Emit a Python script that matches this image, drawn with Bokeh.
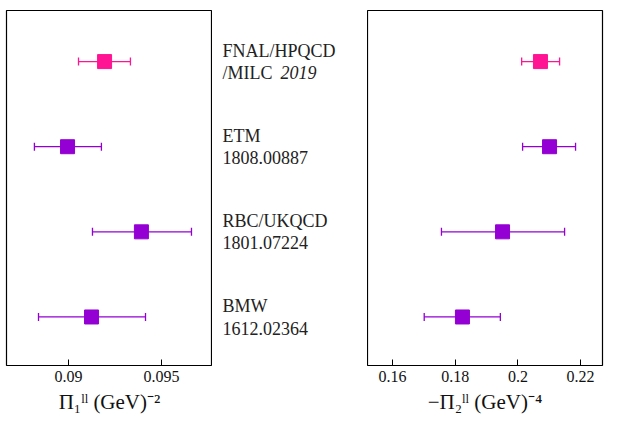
from bokeh.plotting import figure
from bokeh.layouts import row
from bokeh.models import Whisker, ColumnDataSource, Range1d, FixedTicker, TeeHead
from bokeh.core.properties import value
from bokeh.embed import file_html
from bokeh.resources import INLINE

labels1 = ["BMW", "RBC/UKQCD", "ETM", "FNAL/HPQCD"]
labels2 = ["1612.02364", "1801.07224", "1808.00887", "/MILC"]
ypos = [0, 1, 2, 3]
colors = ["#9400d3", "#9400d3", "#9400d3", "#ff1493"]
pi1 = [0.09124, 0.09392, 0.08995, 0.09194]
pi1_lo = [0.08839, 0.09129, 0.08817, 0.09054]
pi1_hi = [0.09414, 0.09661, 0.09177, 0.09333]
pi2 = [0.1823, 0.1951, 0.2101, 0.2072]
pi2_lo = [0.1701, 0.1756, 0.2015, 0.2012]
pi2_hi = [0.1944, 0.2149, 0.2184, 0.2133]

FONT = "Liberation Serif"
yr = (-0.57, 3.6)
FH = 355

def panel(xs, lo, hi, xr, ticks, label, fw, mbl, mbr):
    p = figure(frame_width=fw, frame_height=FH, x_range=Range1d(*xr), y_range=Range1d(*yr),
               output_backend="svg", toolbar_location=None, min_border_left=mbl,
               min_border_right=mbr, min_border_top=10)
    p.grid.visible = False
    p.yaxis.visible = False
    p.outline_line_color = "black"
    p.outline_line_width = 1.2
    src = ColumnDataSource(dict(x=xs, y=ypos, lo=lo, hi=hi, c=colors))
    w = Whisker(base="y", lower="lo", upper="hi", dimension="width", source=src,
                line_color="c", line_width=1.3,
                lower_head=TeeHead(size=8, line_color="c", line_width=1.3),
                upper_head=TeeHead(size=8, line_color="c", line_width=1.3))
    p.add_layout(w)
    p.scatter("x", "y", source=src, marker="square", size=14, fill_color="c", line_color="c")
    ax = p.xaxis[0]
    ax.ticker = FixedTicker(ticks=ticks)
    ax.axis_label = label
    ax.axis_label_text_font = FONT
    ax.axis_label_text_font_size = "21px"
    ax.axis_label_text_font_style = "normal"
    ax.axis_label_text_color = "#111111"
    ax.major_label_text_font = FONT
    ax.major_label_text_font_size = "16px"
    ax.major_label_text_color = "#111111"
    ax.major_tick_in = 6
    ax.major_tick_out = 0
    ax.minor_tick_line_color = None
    ax.axis_line_color = None
    return p

p1 = panel(pi1, pi1_lo, pi1_hi, (0.08667, 0.09774), [0.09, 0.095],
           "Π₁ˡˡ (GeV)⁻²", 206, 6, 0)
p1.xaxis[0].major_label_overrides = {0.09: "0.09", 0.095: "0.095"}
p3 = panel(pi2, pi2_lo, pi2_hi, (0.152, 0.227), [0.16, 0.18, 0.2, 0.22],
           "−Π₂ˡˡ (GeV)⁻⁴", 235, 0, 6)
p3.xaxis[0].major_label_overrides = {0.16: "0.16", 0.18: "0.18", 0.2: "0.2", 0.22: "0.22"}

pm = figure(frame_width=155, frame_height=FH, x_range=Range1d(0, 155), y_range=Range1d(*yr),
            output_backend="svg", toolbar_location=None, min_border_left=0,
            min_border_right=0, min_border_top=10)
pm.axis.visible = False
pm.grid.visible = False
pm.outline_line_color = None
step = 0.26
pm.text(x=[10] * 4, y=[y + step / 2 for y in ypos], text=labels1, text_font=value(FONT),
        text_font_size="18px", text_baseline="middle", text_color="#222222")
pm.text(x=[10] * 4, y=[y - step / 2 for y in ypos], text=labels2, text_font=value(FONT),
        text_font_size="18px", text_baseline="middle", text_color="#222222")
pm.text(x=[68], y=[3 - step / 2], text=["2019"], text_font=value(FONT),
        text_font_size="18px", text_font_style="italic", text_baseline="middle",
        text_color="#222222")

lay = row(p1, pm, p3, spacing=0)
open("out.html", "w").write(file_html(lay, INLINE))
